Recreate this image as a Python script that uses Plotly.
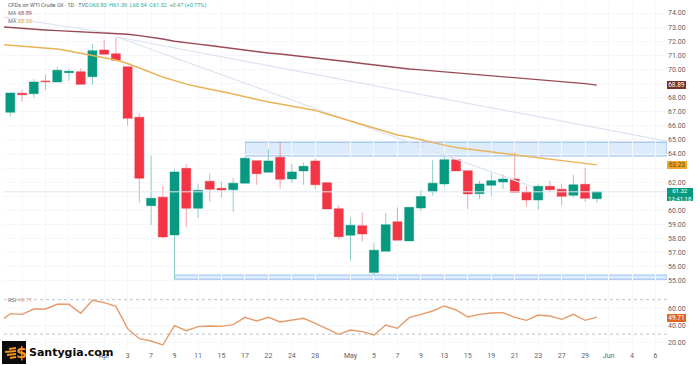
import plotly.graph_objects as go

index = list(range(51))
opens = [66.96,68.31,68.28,69.18,69.11,69.77,69.84,69.48,71.38,71.11,70.19,66.61,60.34,60.94,58.26,62.99,60.15,62.07,61.57,61.47,61.93,63.53,62.71,63.77,62.23,62.80,63.51,61.97,60.12,58.24,58.92,55.59,57.10,59.20,57.84,60.17,61.33,61.88,63.60,62.82,61.19,61.78,62.02,62.23,61.31,60.74,61.71,61.50,61.07,61.85,60.83]
highs = [68.36,68.59,69.30,69.63,70.19,70.01,70.05,71.82,72.09,72.28,70.19,66.89,63.88,61.73,62.92,63.29,61.85,62.63,62.02,62.28,63.79,63.53,64.36,64.83,63.27,63.39,63.65,61.97,60.39,59.49,59.87,57.67,59.80,60.22,60.22,61.45,63.56,63.93,63.60,62.82,62.11,62.63,62.56,64.12,61.73,61.85,62.11,61.85,62.51,63.03,61.39]
lows = [66.65,67.71,68.00,68.54,69.11,69.20,68.94,68.90,71.07,70.65,66.01,60.55,58.97,58.00,55.12,58.81,59.49,60.62,60.93,59.91,61.93,61.82,62.71,61.54,61.97,61.82,61.52,60.10,57.96,56.44,57.79,55.40,57.10,57.89,57.84,59.96,61.07,61.69,62.80,60.12,60.81,61.05,61.52,61.29,60.27,60.05,61.29,60.32,60.91,60.60,60.54]
closes = [68.33,68.21,69.11,69.13,69.94,69.87,68.94,71.33,71.07,70.65,66.53,62.28,60.86,58.12,62.73,60.15,61.43,61.50,61.45,61.93,63.70,62.61,63.51,62.21,62.73,63.13,61.82,60.10,58.14,58.95,58.33,57.18,58.99,57.89,60.22,60.98,61.93,63.60,62.80,61.17,61.88,62.11,62.23,61.29,60.74,61.71,61.47,61.00,61.82,60.86,61.32]

ma_index = list(range(-1, 51))
ma_dark = [73.04,72.97,72.90,72.84,72.80,72.75,72.71,72.67,72.63,72.60,72.57,72.49,72.40,72.30,72.16,72.00,71.87,71.79,71.70,71.59,71.47,71.38,71.26,71.16,71.09,71.00,70.92,70.85,70.74,70.65,70.53,70.42,70.31,70.21,70.10,70.03,69.97,69.90,69.84,69.77,69.70,69.64,69.58,69.52,69.45,69.37,69.28,69.21,69.13,69.06,68.99,68.89]
ma_orange = [71.78,71.71,71.64,71.58,71.52,71.45,71.31,71.16,71.02,70.85,70.67,70.42,70.12,69.78,69.46,69.21,68.96,68.77,68.61,68.47,68.26,68.06,67.85,67.69,67.55,67.39,67.23,67.09,66.84,66.59,66.34,66.06,65.82,65.56,65.35,65.21,65.00,64.80,64.63,64.46,64.36,64.25,64.14,64.04,63.93,63.82,63.74,63.65,63.54,63.46,63.36,63.23]
rsi = [43.3,53.76,52.98,59.18,59.18,64.6,64.6,54.15,69.26,66.55,62.28,36.31,24.69,21.97,17.32,39.8,33.99,38.64,39.42,39.03,40.97,49.49,45.23,49.49,44.07,46.39,48.33,42.52,35.93,29.73,34.76,32.83,28.95,40.58,36.7,49.1,52.98,56.86,62.67,58.02,49.88,52.98,54.53,54.92,49.49,46.0,52.21,51.04,47.17,52.98,46.0,49.71]

trend_top_x = [-0.6, 9.1]
trend_top_y = [73.72, 72.51]
trend_a_x = [9.1, 55.98]
trend_a_y = [72.30, 64.92]
trend_b_x = [9.1, 44.56]
trend_b_y = [72.30, 61.66]

zone_upper = dict(x0=20, x1=55.98, y0=63.86, y1=64.85)
zone_lower = dict(x0=14, x1=55.98, y0=55.12, y1=55.42)

tick_idx = [1,3,5,8,10,12,14,16,18,20,22,24,26,29,31,33,35,37,39,41,43,45,47,49,51,53,55]
tick_txt = ["","","","Apr","3","7","9","11","15","17","22","24","28","May","5","7","9","13","15","19","21","23","27","29","Jun","4","6"]
price_ticks = list(range(55, 75))
price_hidden_by_tags = [61, 63, 69]
price_txt = ["" if p in price_hidden_by_tags else f"{p}.00" for p in price_ticks]

X_RANGE = [-0.537, 55.98]
GRID = "#f5f7fb"
GREEN = "#089981"
RED = "#F23645"
TICK = "#5a5f6a"
F = "Roboto"

fig = go.Figure()
fig.add_trace(go.Candlestick(
    x=index, open=opens, high=highs, low=lows, close=closes,
    increasing=dict(line=dict(color="rgba(8,153,129,0.45)", width=1), fillcolor=GREEN),
    decreasing=dict(line=dict(color="rgba(242,54,69,0.45)", width=1), fillcolor=RED),
    whiskerwidth=0, xaxis="x", yaxis="y", showlegend=False))

for xs, ys in [(trend_top_x, trend_top_y), (trend_a_x, trend_a_y), (trend_b_x, trend_b_y)]:
    fig.add_trace(go.Scatter(x=xs, y=ys, mode="lines", line=dict(color="#dde3f2", width=1.2),
                             xaxis="x", yaxis="y", showlegend=False))
fig.add_trace(go.Scatter(x=X_RANGE, y=[closes[-1], closes[-1]], mode="lines",
                         line=dict(color="#dfe6f0", width=1), xaxis="x", yaxis="y", showlegend=False))
fig.add_trace(go.Scatter(x=ma_index, y=ma_dark, mode="lines", line=dict(color="#9a4a56", width=1.4),
                         xaxis="x", yaxis="y", showlegend=False))
fig.add_trace(go.Scatter(x=ma_index, y=ma_orange, mode="lines", line=dict(color="#E9B356", width=1.4),
                         xaxis="x", yaxis="y", showlegend=False))

for lvl in [70, 30]:
    fig.add_trace(go.Scatter(x=X_RANGE, y=[lvl, lvl], mode="lines",
                             line=dict(color="#bcc0ca", width=1, dash="dot"),
                             xaxis="x", yaxis="y2", showlegend=False))
fig.add_trace(go.Scatter(x=ma_index, y=rsi, mode="lines", line=dict(color="#E59A6A", width=1.4),
                         xaxis="x", yaxis="y2", showlegend=False))

shapes = []
for z in (zone_upper, zone_lower):
    shapes.append(dict(type="rect", xref="x", yref="y", layer="below",
                       fillcolor="rgba(187,217,251,0.5)", line=dict(color="#9dbfee", width=1.2), **z))
# watermark block and its flame strokes
shapes.append(dict(type="rect", xref="paper", yref="paper", x0=2/700, x1=26/700,
                   y0=1-364/365, y1=1-341/365, fillcolor="#0b0b0b", line=dict(width=0), layer="above"))
for y_px, x0_px in [(348, 9), (351, 5), (354, 7), (357, 10)]:
    shapes.append(dict(type="line", xref="paper", yref="paper", x0=x0_px/700, x1=16/700,
                       y0=1-(y_px+1)/365, y1=1-y_px/365, line=dict(color="#F7931E", width=2), layer="above"))

def ann(text, xpx, ypx, color, size=5.5, anchor="left", bg=None, w=None, h=None, bold=False, family=F):
    a = dict(text=f"<b>{text}</b>" if bold else text, xref="paper", yref="paper", x=xpx/700, y=1-ypx/365,
             xanchor=anchor, yanchor="middle", showarrow=False, font=dict(family=family, size=size, color=color),
             borderpad=0, borderwidth=0)
    if bg:
        a["bgcolor"] = bg
    if w:
        a["width"] = w
    if h:
        a["height"] = h
    return a

annotations = [
    ann("CFDs on WTI Crude Oil · 1D · TVC", 8, 5.5, "#555a66"),
    ann("O60.83  H61.39  L60.54  C61.32  +0.47 (+0.77%)", 89, 5.5, "#2aa78f"),
    ann("MA", 8, 12.5, "#6c717c"),
    ann("68.89", 18, 12.5, "#9a4a56"),
    ann("MA", 8, 21, "#6c717c"),
    ann("63.23", 18, 21, "#E0A030"),
    ann("RSI", 8, 300, "#6c717c"),
    ann("49.71", 18, 300, "#E59A6A"),
    ann("68.89", 667, 85, "white", size=6.5, bg="#7b3024", w=19, h=8),
    ann("63.23", 667, 164.5, "#6b4a10", size=6.5, bg="#EFA62B", w=20, h=8),
    ann("61.32<br>12:41:18", 667, 194.5, "white", size=6, bg=GREEN, w=26, h=13),
    ann("49.71", 667, 317.5, "white", size=6.5, bg="#E2661F", w=19, h=8),
    ann("$", 16, 352, "#F7931E", size=16, bold=True, family="DejaVu Sans"),
    ann("Santygia.com", 29, 352.5, "#0b0b0b", size=11, bold=True, family="DejaVu Sans"),
]

fig.update_layout(
    width=700, height=365, autosize=False,
    margin=dict(l=0, r=0, t=0, b=0),
    paper_bgcolor="white", plot_bgcolor="white",
    showlegend=False, boxgap=0.23, boxgroupgap=0,
    shapes=shapes, annotations=annotations,
    xaxis=dict(domain=[4/700, 667/700], range=X_RANGE, anchor="y2", rangeslider=dict(visible=False),
               tickmode="array", tickvals=tick_idx, ticktext=tick_txt, showgrid=True, gridcolor=GRID, gridwidth=1,
               zeroline=False, showline=False, ticks="", ticklabelstandoff=1,
               tickfont=dict(family=F, size=7, color=TICK)),
    yaxis=dict(domain=[1-287/365, 1-3/365], range=[54.57, 74.71], side="right", anchor="x",
               tickmode="array", tickvals=price_ticks, ticktext=price_txt, showgrid=True, gridcolor=GRID,
               zeroline=False, showline=False, ticks="", tickfont=dict(family=F, size=7, color=TICK)),
    yaxis2=dict(domain=[1-349/365, 1-289/365], range=[12.7, 82.4], side="right", anchor="x",
                tickmode="array", tickvals=[20, 40, 60], ticktext=["20.00", "40.00", "60.00"], showgrid=True,
                gridcolor=GRID, zeroline=False, showline=False, ticks="",
                tickfont=dict(family=F, size=7, color=TICK)),
)

fig.write_html("out.html", config=dict(displayModeBar=False),
               post_script="document.body.style.margin='0';document.documentElement.style.overflow='hidden';")
